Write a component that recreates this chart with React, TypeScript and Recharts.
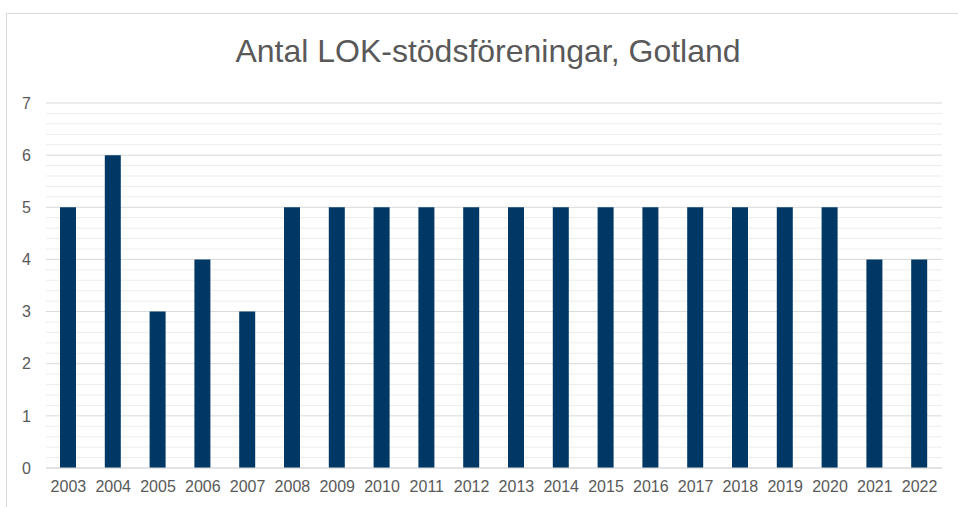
import { Bar, BarChart, CartesianGrid, ReferenceLine, XAxis, YAxis } from "recharts"

const years = [
  "2003", "2004", "2005", "2006", "2007", "2008", "2009", "2010", "2011", "2012",
  "2013", "2014", "2015", "2016", "2017", "2018", "2019", "2020", "2021", "2022",
]
const antal = [5, 6, 3, 4, 3, 5, 5, 5, 5, 5, 5, 5, 5, 5, 5, 5, 5, 5, 4, 4]
const majorTicks = [0, 1, 2, 3, 4, 5, 6, 7]
const minorTicks = [
  0.2, 0.4, 0.6, 0.8, 1.2, 1.4, 1.6, 1.8, 2.2, 2.4, 2.6, 2.8, 3.2, 3.4, 3.6, 3.8,
  4.2, 4.4, 4.6, 4.8, 5.2, 5.4, 5.6, 5.8, 6.2, 6.4, 6.6, 6.8,
]

const title = "Antal LOK-stödsföreningar, Gotland"

const data = years.map((year, i) => ({ name: year, antal: antal[i] }))

const font = "'Liberation Sans', Arial, sans-serif"

export default function App() {
  return (
    <div style={{ position: "absolute", left: 0, top: 0, width: 958, height: 507, background: "#fff", fontFamily: font }}>
      <div
        style={{
          position: "absolute",
          left: 6,
          top: 13,
          width: 960,
          height: 500,
          borderLeft: "1px solid #d9d9d9",
          borderTop: "1px solid #d9d9d9",
        }}
      />
      <div
        style={{
          position: "absolute",
          left: 0,
          top: 32,
          width: 976,
          textAlign: "center",
          fontSize: 32,
          lineHeight: "38px",
          color: "#595959",
        }}
      >
        {title}
      </div>
      <div style={{ position: "absolute", left: 0, top: 0 }}>
        <BarChart width={958} height={507} data={data} margin={{ top: 103, right: 16, bottom: 0, left: 0 }} barCategoryGap={0}>
          <CartesianGrid vertical={false} stroke="#d9d9d9" strokeWidth={1} />
          {/* minor gridlines, 0.2 steps */}
          {minorTicks.map((t) => (
            <ReferenceLine key={t} y={t} stroke="#ededed" strokeWidth={1} zIndex={-1} />
          ))}
          <XAxis
            dataKey="name"
            height={39}
            tickLine={false}
            axisLine={{ stroke: "#d9d9d9" }}
            tickSize={0}
            tickMargin={13}
            interval={0}
            tick={{ fill: "#595959", fontSize: 16, fontFamily: font }}
          />
          <YAxis
            domain={[0, 7]}
            ticks={majorTicks}
            width={46}
            axisLine={false}
            tickLine={false}
            tickSize={0}
            tickMargin={15}
            tick={{ fill: "#595959", fontSize: 16, fontFamily: font }}
          />
          <Bar dataKey="antal" fill="#003865" barSize={16} isAnimationActive={false} />
        </BarChart>
      </div>
    </div>
  )
}
